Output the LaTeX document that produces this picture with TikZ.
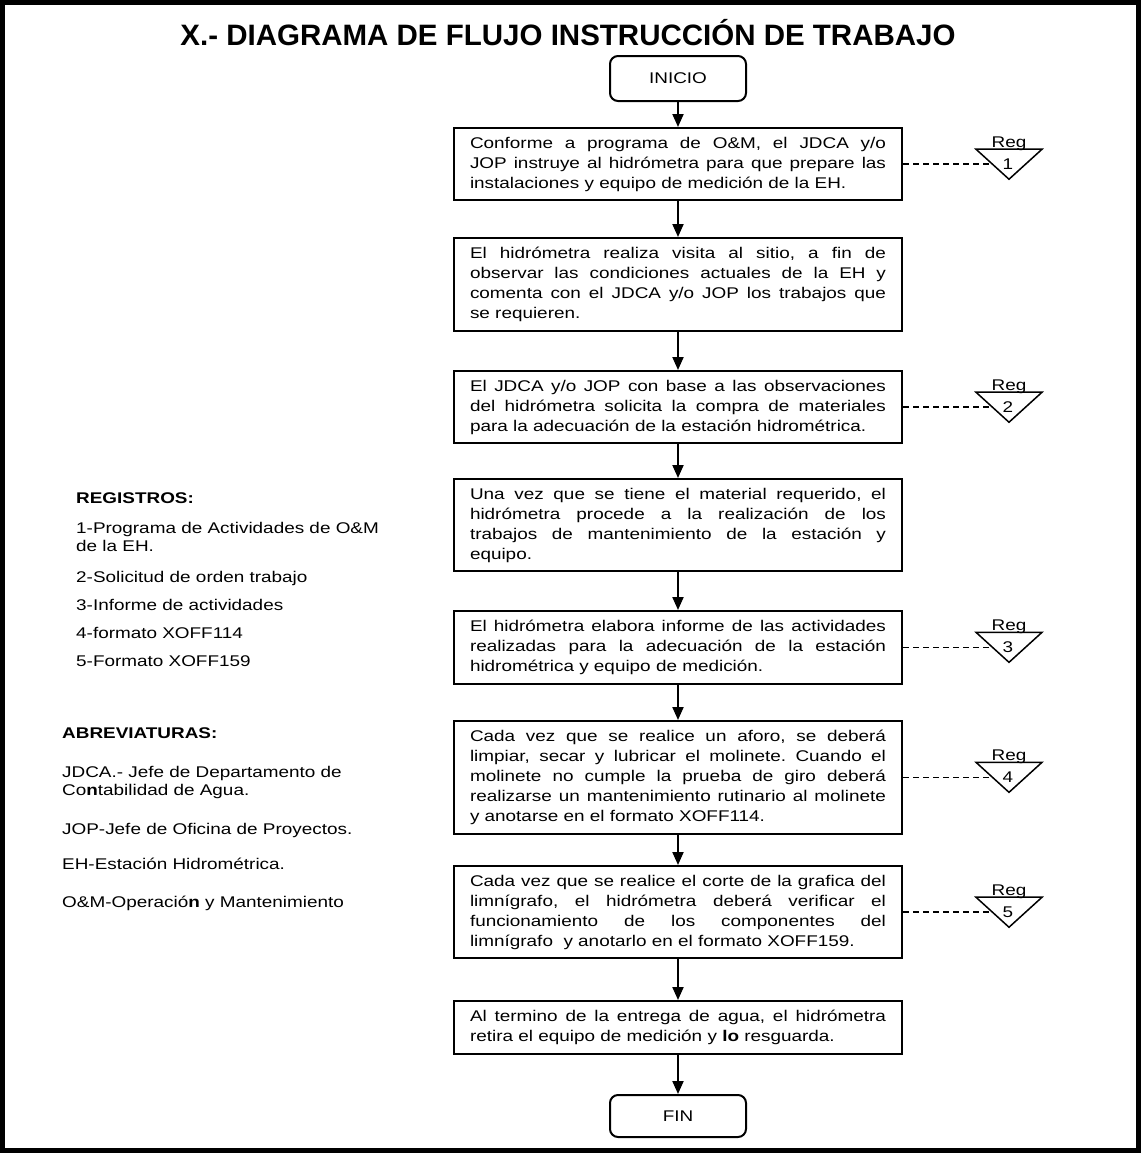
\documentclass[tikz,border=0pt]{standalone}
\usepackage{fontspec}
\setmainfont{Liberation Sans}
\newfontfamily\bodyfont[FakeStretch=1.22]{Liberation Sans}
\usetikzlibrary{arrows.meta, calc}
\tolerance=10000
\hyphenpenalty=10000
\frenchspacing

\begin{document}
\begin{tikzpicture}[
    x=1pt, y=-1pt,
    paso/.style={draw=black, line width=2pt, text width=416pt, inner xsep=16pt, inner ysep=9pt,
        align=justify, anchor=north, font=\bodyfont\fontsize{15.5}{20}\selectfont},
    terminal/.style={draw=black, line width=2pt, rounded corners=8pt, minimum width=136pt,
        anchor=north, font=\bodyfont\fontsize{15.5}{18}\selectfont},
    flecha/.style={draw=black, line width=2pt, -{Triangle[length=13pt,width=11pt]}},
    liga/.style={draw=black, line width=1.5pt, dash pattern=on 6pt off 4pt},
    nota/.style={anchor=base west, inner sep=0pt, font=\bodyfont\fontsize{15.5}{18}\selectfont},
    regtxt/.style={inner sep=0pt, font=\bodyfont\fontsize{15.5}{18}\selectfont}
]
\useasboundingbox (0,0) rectangle (1141,1163);

% --- Frame and title ---
\draw[line width=5pt] (2.5,2.5) rectangle (1138.5,1150.5);
\node[anchor=base, inner sep=0pt, font=\bfseries\fontsize{29.5}{34}\selectfont] (titulo) at (568,45)
    {X.- DIAGRAMA DE FLUJO INSTRUCCIÓN DE TRABAJO};

% --- Flow steps ---
\node[terminal, minimum height=45pt] (ini) at (678,55) {INICIO};
\node[paso] (b1) at (678,127) {Conforme a programa de O\&M, el JDCA y/o\linebreak
    JOP instruye al hidrómetra para que prepare las\linebreak
    instalaciones y equipo de medición de la EH.};
\node[paso] (b2) at (678,237) {El hidrómetra realiza visita al sitio, a fin de\linebreak
    observar las condiciones actuales de la EH y\linebreak
    comenta con el JDCA y/o JOP los trabajos que\linebreak
    se requieren.};
\node[paso] (b3) at (678,370) {El JDCA y/o JOP con base a las observaciones\linebreak
    del hidrómetra solicita la compra de materiales\linebreak
    para la adecuación de la estación hidrométrica.};
\node[paso] (b4) at (678,478) {Una vez que se tiene el material requerido, el\linebreak
    hidrómetra procede a la realización de los\linebreak
    trabajos de mantenimiento de la estación y\linebreak
    equipo.};
\node[paso] (b5) at (678,610) {El hidrómetra elabora informe de las actividades\linebreak
    realizadas para la adecuación de la estación\linebreak
    hidrométrica y equipo de medición.};
\node[paso] (b6) at (678,720) {Cada vez que se realice un aforo, se deberá\linebreak
    limpiar, secar y lubricar el molinete. Cuando el\linebreak
    molinete no cumple la prueba de giro deberá\linebreak
    realizarse un mantenimiento rutinario al molinete\linebreak
    y anotarse en el formato XOFF114.};
\node[paso] (b7) at (678,865) {Cada vez que se realice el corte de la grafica del\linebreak
    limnígrafo, el hidrómetra deberá verificar el\linebreak
    funcionamiento de los componentes del\linebreak
    limnígrafo\ \ y anotarlo en el formato XOFF159.};
\node[paso] (b8) at (678,1000) {Al termino de la entrega de agua, el hidrómetra\linebreak
    retira el equipo de medición y \textbf{lo} resguarda.};
\node[terminal, minimum height=42pt] (fin) at (678,1094) {FIN};

% --- Arrows ---
\draw[flecha] (ini) -- (b1);
\draw[flecha] (b1) -- (b2);
\draw[flecha] (b2) -- (b3);
\draw[flecha] (b3) -- (b4);
\draw[flecha] (b4) -- (b5);
\draw[flecha] (b5) -- (b6);
\draw[flecha] (b6) -- (b7);
\draw[flecha] (b7) -- (b8);
\draw[flecha] (b8) -- (fin);

% --- Registro marks ---
\foreach \b/\n in {b1/1, b3/2, b5/3, b6/4, b7/5} {
    \path (\b.east) ++(106,0) coordinate (t\n);
    \draw[line width=1.5pt, line join=miter] ($(t\n)+(-33,-15)$) -- ($(t\n)+(33,-15)$) -- ($(t\n)+(0,15)$) -- cycle;
    \coordinate (e\n) at ($(t\n)+(-16.5,0)$);
    \draw[liga] (\b.east) -- (e\n);
    \node[regtxt, anchor=base] (rg\n) at ($(t\n)+(0,-17)$) {Reg};
    \node[regtxt] (rn\n) at ($(t\n)+(-1,0)$) {\n};
}

% --- Registros ---
\node[nota] (hreg) at (76,503) {\textbf{REGISTROS:}};
\node[nota] (r1) at (76,533) {1-Programa de Actividades de O\&M};
\node[nota] (r1b) at (76,551) {de la EH.};
\node[nota] (r2) at (76,582) {2-Solicitud de orden trabajo};
\node[nota] (r3) at (76,610) {3-Informe de actividades};
\node[nota] (r4) at (76,638) {4-formato XOFF114};
\node[nota] (r5) at (76,666) {5-Formato XOFF159};

% --- Abreviaturas ---
\node[nota] (habr) at (62,738) {\textbf{ABREVIATURAS:}};
\node[nota] (a1) at (62,777) {JDCA.- Jefe de Departamento de};
\node[nota] (a1b) at (62,795) {Co\textbf{n}tabilidad de Agua.};
\node[nota] (a2) at (62,834) {JOP-Jefe de Oficina de Proyectos.};
\node[nota] (a3) at (62,869) {EH-Estación Hidrométrica.};
\node[nota] (a4) at (62,907) {O\&M-Operació\textbf{n} y Mantenimiento};

\end{tikzpicture}
\end{document}
